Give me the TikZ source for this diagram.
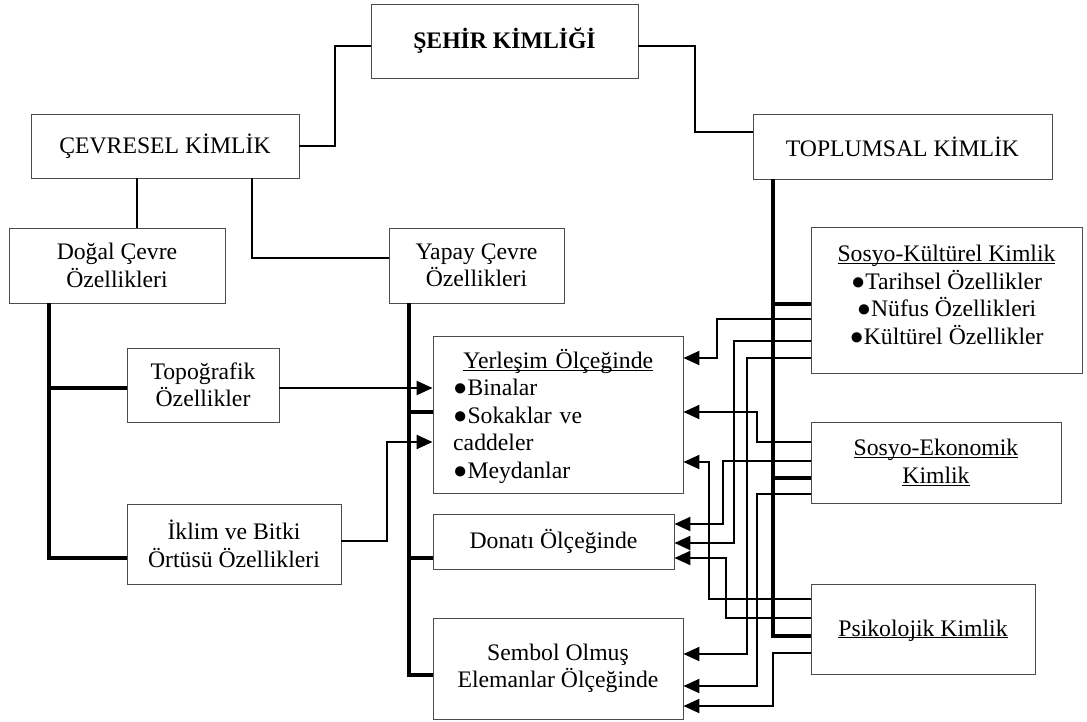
\documentclass[tikz,border=0pt]{standalone}
\usepackage{fontspec}
\setmainfont{Liberation Serif}
\usetikzlibrary{arrows.meta}
\newcommand\dfont{\fontsize{23.7pt}{27.5pt}\selectfont}
\newcommand\uln[1]{\underline{\raisebox{0pt}[\height][0pt]{#1}}}
\tikzset{
  box/.style={draw=black!70, line width=0.9pt, fill=white, inner sep=0pt, align=center, font=\dfont},
  txt/.style={inner sep=0pt, align=center, font=\dfont},
  lnk/.style={line width=1.4pt},
  conn/.style={line width=2.3pt},
  trunk/.style={line width=4pt},
  arr/.style={conn, -{Triangle[length=16pt,width=14pt]}},
}
\begin{document}
\begin{tikzpicture}[x=1pt,y=-1pt]
\useasboundingbox (0,0) rectangle (1087,722);
% nodes
\node[box, minimum width=267pt, minimum height=74pt, font=\dfont\bfseries] (seh) at (504.5,41) {ŞEHİR KİMLİĞİ};
\node[box, minimum width=268pt, minimum height=64pt] (cev) at (165,146) {ÇEVRESEL KİMLİK};
\node[box, minimum width=299pt, minimum height=65pt] (top) at (902.5,146.5) {TOPLUMSAL KİMLİK};
\node[box, minimum width=216pt, minimum height=75pt] (dog) at (117,265.5) {Doğal Çevre\\Özellikleri};
\node[box, minimum width=175pt, minimum height=75pt] (yap) at (476.5,265.5) {Yapay Çevre\\Özellikleri};
\node[box, minimum width=152pt, minimum height=74pt] (topo) at (203,385) {Topoğrafik\\Özellikler};
\node[box, minimum width=214pt, minimum height=80pt] (ikl) at (234,544) {İklim ve Bitki\\Örtüsü Özellikleri};
\node[box, minimum width=250pt, minimum height=157pt] (yer) at (558,414.5) {};
\node[txt, text width=210pt, align=left, anchor=north west] (yertext) at (453,349)
  {\makebox[210pt][c]{\uln{Yerleşim Ölçeğinde}}\\●Binalar\\●Sokaklar ve\\caddeler\\●Meydanlar};
\node[box, minimum width=241pt, minimum height=55pt] (don) at (553.5,541.5) {Donatı Ölçeğinde};
\node[box, minimum width=250pt, minimum height=101pt] (sem) at (558,668.5) {Sembol Olmuş\\Elemanlar Ölçeğinde};
\node[box, minimum width=271pt, minimum height=146pt] (sk) at (946.5,300) {};
\node[txt] (sktext) at (946.5,295)
  {\uln{Sosyo-Kültürel Kimlik}\\●Tarihsel Özellikler\\●Nüfus Özellikleri\\●Kültürel Özellikler};
\node[box, minimum width=250pt, minimum height=81pt] (se) at (936,462.5) {\uln{Sosyo-Ekonomik}\\\uln{Kimlik}};
\node[box, minimum width=224pt, minimum height=90pt] (ps) at (923,629) {\uln{Psikolojik Kimlik}};
% top links
\draw[lnk] (cev.east) -| (335,46) -- (seh.west |- 0,46);
\draw[lnk] (seh.east |- 0,46) -| (695,132) -- (top.west |- 0,132);
\draw[lnk] (137,0 |- cev.south) -- (137,0 |- dog.north);
\draw[lnk] (252,0 |- cev.south) |- (yap.west |- 0,258);
% left trunks
\draw[trunk] (49,0 |- dog.south) |- (ikl.west |- 0,558);
\draw[trunk] (49,388) -- (topo.west |- 0,388);
\draw[arr] (topo.east |- 0,388) -- (yer.west |- 0,388);
\draw[arr] (ikl.east |- 0,541) -| (387,442) -- (yer.west |- 0,442);
\draw[trunk] (409,0 |- yap.south) |- (sem.west |- 0,675);
\draw[trunk] (409,412) -- (yer.west |- 0,412);
\draw[trunk] (409,558) -- (don.west |- 0,558);
% right trunk
\draw[trunk] (773,0 |- top.south) |- (ps.west |- 0,636);
\draw[trunk] (773,304) -- (sk.west |- 0,304);
\draw[trunk] (773,478) -- (se.west |- 0,478);
% right arrows
\draw[arr] (sk.west |- 0,319) -| (717,358) -- (yer.east |- 0,358);
\draw[arr] (sk.west |- 0,341) -| (734,543) -- (don.east |- 0,543);
\draw[arr] (sk.west |- 0,358) -| (747,654) -- (sem.east |- 0,654);
\draw[arr] (se.west |- 0,442) -| (757,412) -- (yer.east |- 0,412);
\draw[arr] (se.west |- 0,461) -| (723,524) -- (don.east |- 0,524);
\draw[arr] (se.west |- 0,494) -| (757,686) -- (sem.east |- 0,686);
\draw[arr] (ps.west |- 0,599) -| (709,462) -- (yer.east |- 0,462);
\draw[arr] (ps.west |- 0,618) -| (726,558) -- (don.east |- 0,558);
\draw[arr] (ps.west |- 0,653) -| (773,706) -- (sem.east |- 0,706);
\end{tikzpicture}
\end{document}
